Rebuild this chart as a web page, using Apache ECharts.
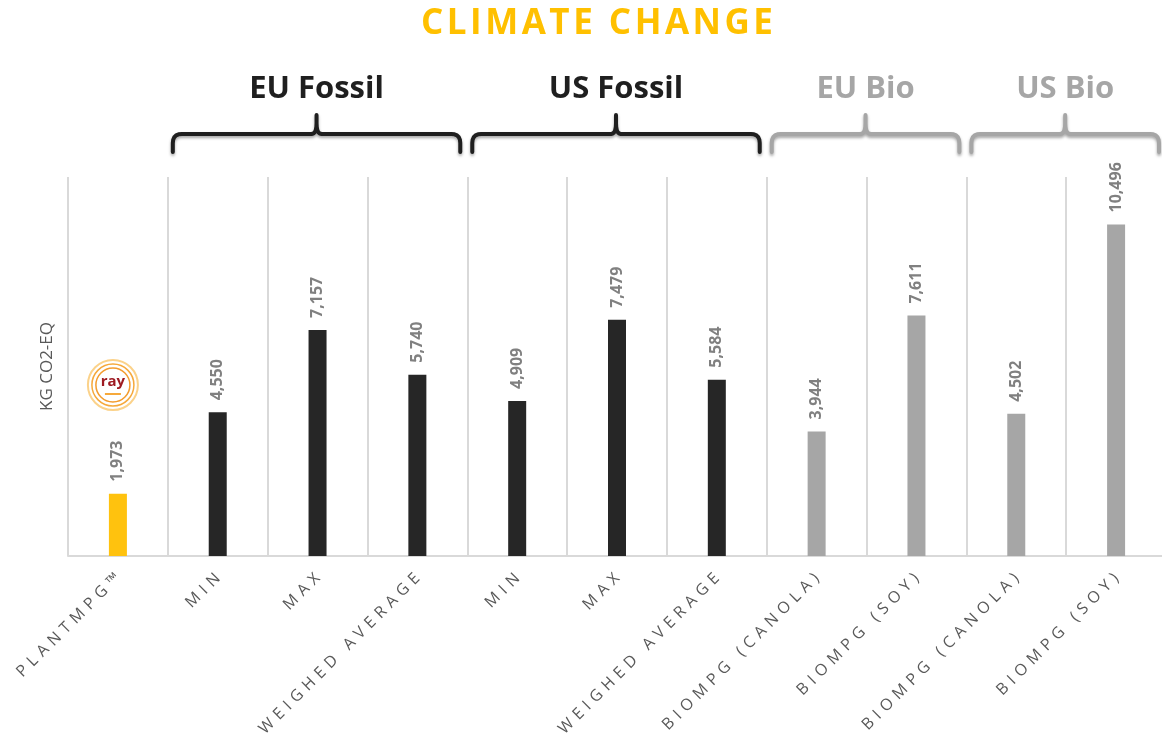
<!DOCTYPE html>
<html>
<head>
<meta charset="utf-8">
<script src="https://cdn.jsdelivr.net/npm/echarts@6/dist/echarts.min.js"></script>
<style>
  html, body { margin: 0; padding: 0; background: #fff; overflow: hidden; }
  #chart { width: 1172px; height: 740px; }
</style>
</head>
<body>
<div id="chart"></div>
<script>
// categories and values
var categories = ['PLANTMPG™', 'MIN', 'MAX', 'WEIGHED AVERAGE', 'MIN', 'MAX', 'WEIGHED AVERAGE',
    'BIOMPG (CANOLA)', 'BIOMPG (SOY)', 'BIOMPG (CANOLA)', 'BIOMPG (SOY)'];
var values = [1973, 4550, 7157, 5740, 4909, 7479, 5584, 3944, 7611, 4502, 10496];
var barColors = ['#ffc20e', '#262626', '#262626', '#262626', '#262626', '#262626', '#262626',
    '#a6a6a6', '#a6a6a6', '#a6a6a6', '#a6a6a6'];

// groups shown with brackets above the bars
var groupNames = ['EU Fossil', 'US Fossil', 'EU Bio', 'US Bio'];
var groupStart = [1, 4, 7, 9];
var groupEnd = [3, 6, 8, 10];
var groupColors = ['#1f1f1f', '#1f1f1f', '#a6a6a6', '#a6a6a6'];

// spread letters out a bit (the original uses letter spacing)
function spaced(s, sp) {
    return s.split('').join(sp);
}

function fmt(v) {
    return String(v).replace(/\B(?=(\d{3})+(?!\d))/g, ',');
}

// points of a quadratic curve, for the rounded bracket corners
function quad(p0, p1, p2, out) {
    for (var t = 0.2; t <= 1.001; t += 0.2) {
        var a = (1 - t) * (1 - t), b = 2 * (1 - t) * t, c = t * t;
        out.push([a * p0[0] + b * p1[0] + c * p2[0], a * p0[1] + b * p1[1] + c * p2[1]]);
    }
}

var chart = echarts.init(document.getElementById('chart'));

var option = {
    animation: false,
    title: {
        text: spaced('CLIMATE CHANGE', '\u200A'),
        left: 592,
        textAlign: 'center',
        top: 2,
        textStyle: {
            color: '#ffc000',
            fontFamily: 'Open Sans',
            fontWeight: 'bold',
            fontSize: 35
        }
    },
    grid: {
        left: 68,
        top: 177,
        width: 1098,
        height: 379
    },
    xAxis: {
        type: 'category',
        data: categories,
        axisLine: { lineStyle: { color: '#d9d9d9', width: 2 } },
        axisTick: { show: false },
        splitLine: { show: true, lineStyle: { color: '#d9d9d9', width: 2 } },
        axisLabel: {
            interval: 0,
            rotate: 45,
            margin: 20,
            color: '#595959',
            fontFamily: 'Open Sans',
            fontSize: 16,
            formatter: function (v) { return spaced(v, '\u2004'); }
        }
    },
    yAxis: {
        type: 'value',
        min: 0,
        max: 12000,
        name: 'KG CO2-EQ',
        nameLocation: 'middle',
        nameRotate: 90,
        nameGap: 12,
        nameTextStyle: {
            color: '#595959',
            fontFamily: 'Open Sans',
            fontSize: 17
        },
        axisLine: { show: false },
        axisTick: { show: false },
        axisLabel: { show: false },
        splitLine: { show: false }
    },
    series: [{
        type: 'bar',
        barWidth: 18,
        data: values.map(function (v, i) {
            return { value: v, itemStyle: { color: barColors[i] } };
        }),
        label: {
            show: true,
            position: 'top',
            rotate: 90,
            align: 'left',
            verticalAlign: 'middle',
            distance: 12,
            color: '#808080',
            fontFamily: 'Open Sans',
            fontWeight: 'bold',
            fontSize: 16,
            formatter: function (p) { return fmt(p.value); }
        }
    }]
};
chart.setOption(option);

// brackets and group labels, placed from the category axis
var half = (chart.convertToPixel({ xAxisIndex: 0 }, 1) - chart.convertToPixel({ xAxisIndex: 0 }, 0)) / 2;
var graphics = [];
for (var g = 0; g < groupNames.length; g++) {
    var x1 = chart.convertToPixel({ xAxisIndex: 0 }, groupStart[g]) - half + 5;
    var x2 = chart.convertToPixel({ xAxisIndex: 0 }, groupEnd[g]) + half - 7;
    var xm = (x1 + x2) / 2;
    var pts = [[x1, 152], [x1, 143]];
    quad([x1, 143], [x1, 134], [x1 + 9, 134], pts);
    pts.push([xm - 5, 134]);
    quad([xm - 5, 134], [xm, 134], [xm, 123], pts);
    pts.push([xm, 115], [xm, 123]);
    quad([xm, 123], [xm, 134], [xm + 5, 134], pts);
    pts.push([x2 - 9, 134]);
    quad([x2 - 9, 134], [x2, 134], [x2, 143], pts);
    pts.push([x2, 152]);
    graphics.push({
        type: 'polyline',
        shape: { points: pts },
        style: {
            fill: null,
            stroke: groupColors[g],
            lineWidth: 4,
            lineCap: 'round',
            lineJoin: 'round',
            shadowBlur: 3,
            shadowOffsetY: 2,
            shadowColor: 'rgba(0,0,0,0.35)'
        }
    });
    graphics.push({
        type: 'text',
        x: xm,
        y: 89,
        style: {
            text: groupNames[g],
            fill: groupColors[g],
            font: 'bold 31px "Open Sans"',
            textAlign: 'center',
            textVerticalAlign: 'middle'
        }
    });
}

// small stand-in for the logo above the first bar
var lx = chart.convertToPixel({ xAxisIndex: 0 }, 0) - 5;
var ly = 385;
graphics.push({ type: 'circle', shape: { cx: lx, cy: ly, r: 25 }, style: { fill: '#fff', stroke: '#fbd28a', lineWidth: 2 } });
graphics.push({ type: 'circle', shape: { cx: lx, cy: ly, r: 21 }, style: { fill: null, stroke: '#f6a93b', lineWidth: 1.5 } });
graphics.push({ type: 'circle', shape: { cx: lx, cy: ly, r: 17 }, style: { fill: '#fff', stroke: '#f39c2e', lineWidth: 1.5 } });
graphics.push({ type: 'text', x: lx, y: ly - 3, style: { text: 'ray', fill: '#9e1b22', font: 'bold 15px "Open Sans"', textAlign: 'center', textVerticalAlign: 'middle' } });
graphics.push({ type: 'rect', shape: { x: lx - 8, y: ly + 8, width: 16, height: 2 }, style: { fill: '#f6a93b' } });

chart.setOption({ graphic: graphics });
</script>
</body>
</html>
